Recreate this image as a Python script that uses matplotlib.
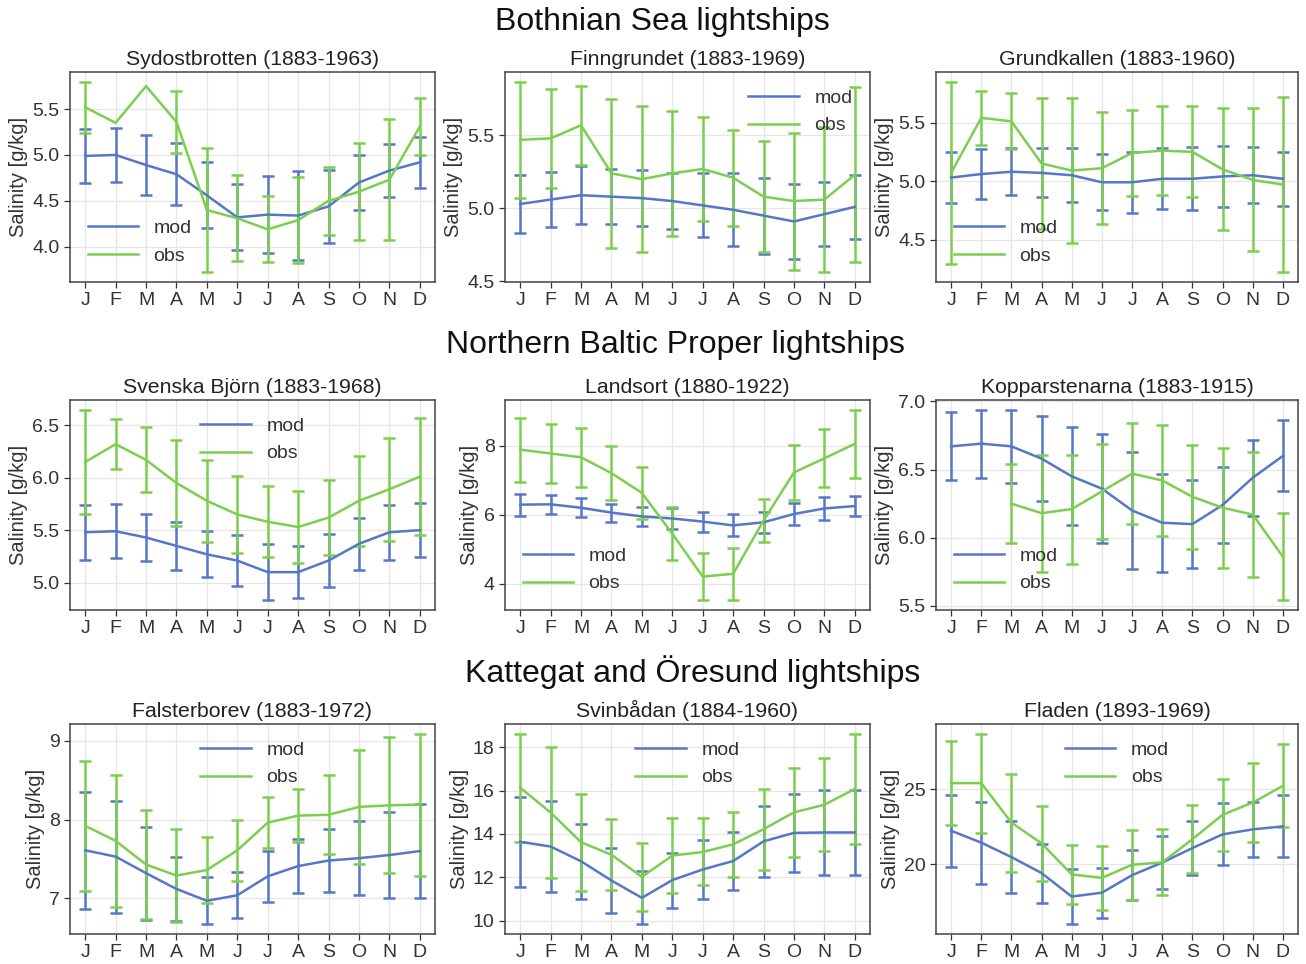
import numpy as np
import matplotlib
matplotlib.use('Agg')
import matplotlib.pyplot as plt
from matplotlib.ticker import MultipleLocator

plt.rcParams['font.family'] = ['Liberation Sans', 'DejaVu Sans']

months = ['J', 'F', 'M', 'A', 'M', 'J', 'J', 'A', 'S', 'O', 'N', 'D']
nan = np.nan

row_titles = ['Bothnian Sea lightships', 'Northern Baltic Proper lightships',
              'Kattegat and Öresund lightships']

stations = ['Sydostbrotten (1883-1963)', 'Finngrundet (1883-1969)', 'Grundkallen (1883-1960)',
            'Svenska Björn (1883-1968)', 'Landsort (1880-1922)', 'Kopparstenarna (1883-1915)',
            'Falsterborev (1883-1972)', 'Svinbådan (1884-1960)', 'Fladen (1893-1969)']

# monthly mean and standard deviation, model and observations
mod_mean = [
    [4.99, 5.00, 4.89, 4.79, 4.56, 4.32, 4.35, 4.34, 4.44, 4.70, 4.83, 4.92],
    [5.03, 5.06, 5.09, 5.08, 5.07, 5.05, 5.02, 4.99, 4.95, 4.91, 4.96, 5.01],
    [5.03, 5.06, 5.08, 5.07, 5.05, 4.99, 4.99, 5.02, 5.02, 5.04, 5.05, 5.02],
    [5.48, 5.49, 5.43, 5.35, 5.27, 5.21, 5.10, 5.10, 5.21, 5.37, 5.48, 5.50],
    [6.29, 6.30, 6.20, 6.06, 5.95, 5.89, 5.80, 5.69, 5.78, 6.02, 6.18, 6.25],
    [6.67, 6.69, 6.67, 6.58, 6.45, 6.36, 6.20, 6.11, 6.10, 6.24, 6.44, 6.60],
    [7.61, 7.53, 7.32, 7.12, 6.97, 7.04, 7.28, 7.41, 7.48, 7.51, 7.55, 7.60],
    [13.64, 13.42, 12.74, 11.85, 11.05, 11.87, 12.36, 12.75, 13.66, 14.05, 14.07, 14.07],
    [22.24, 21.45, 20.49, 19.43, 17.87, 18.13, 19.29, 20.13, 21.09, 22.00, 22.33, 22.53],
]
mod_std = [
    [0.29, 0.29, 0.33, 0.34, 0.36, 0.36, 0.42, 0.48, 0.40, 0.30, 0.29, 0.28],
    [0.20, 0.19, 0.20, 0.19, 0.19, 0.19, 0.22, 0.25, 0.26, 0.26, 0.22, 0.22],
    [0.22, 0.21, 0.20, 0.21, 0.23, 0.24, 0.26, 0.26, 0.27, 0.26, 0.24, 0.23],
    [0.26, 0.26, 0.22, 0.23, 0.22, 0.24, 0.27, 0.25, 0.25, 0.25, 0.26, 0.26],
    [0.32, 0.28, 0.28, 0.26, 0.28, 0.31, 0.29, 0.32, 0.30, 0.33, 0.33, 0.29],
    [0.25, 0.25, 0.27, 0.31, 0.36, 0.40, 0.43, 0.36, 0.32, 0.28, 0.28, 0.26],
    [0.74, 0.71, 0.59, 0.40, 0.30, 0.29, 0.32, 0.34, 0.40, 0.47, 0.54, 0.60],
    [2.07, 2.10, 1.73, 1.49, 1.23, 1.27, 1.37, 1.34, 1.65, 1.79, 1.95, 1.98],
    [2.39, 2.73, 2.37, 1.96, 1.85, 1.66, 1.65, 1.74, 1.77, 2.05, 1.85, 2.05],
]
obs_mean = [
    [5.52, 5.35, 5.75, 5.36, 4.40, 4.31, 4.19, 4.29, 4.50, 4.60, 4.73, 5.31],
    [5.47, 5.48, 5.57, 5.24, 5.20, 5.24, 5.27, 5.21, 5.08, 5.05, 5.06, 5.23],
    [5.07, 5.54, 5.51, 5.15, 5.09, 5.11, 5.24, 5.26, 5.25, 5.10, 5.01, 4.97],
    [6.15, 6.32, 6.17, 5.95, 5.78, 5.65, 5.58, 5.53, 5.62, 5.78, 5.89, 6.01],
    [7.88, 7.77, 7.66, 7.20, 6.63, 5.45, 4.21, 4.29, 5.83, 7.22, 7.63, 8.05],
    [nan, nan, 6.25, 6.18, 6.21, 6.34, 6.47, 6.42, 6.30, 6.22, 6.17, 5.86],
    [7.92, 7.73, 7.43, 7.29, 7.36, 7.61, 7.96, 8.05, 8.06, 8.16, 8.18, 8.19],
    [16.14, 14.99, 13.62, 13.04, 12.02, 13.00, 13.17, 13.52, 14.22, 15.00, 15.35, 16.08],
    [25.40, 25.40, 22.78, 21.40, 19.34, 19.11, 19.98, 20.14, 21.68, 23.30, 24.11, 25.22],
]
obs_std = [
    [0.28, nan, nan, 0.34, 0.68, 0.47, 0.36, 0.47, 0.37, 0.53, 0.66, 0.31],
    [0.40, 0.34, 0.27, 0.51, 0.50, 0.43, 0.36, 0.33, 0.38, 0.47, 0.50, 0.60],
    [0.78, 0.23, 0.24, 0.56, 0.62, 0.48, 0.37, 0.38, 0.39, 0.52, 0.61, 0.75],
    [0.50, 0.24, 0.31, 0.41, 0.39, 0.37, 0.34, 0.34, 0.36, 0.43, 0.49, 0.56],
    [0.93, 0.84, 0.85, 0.78, 0.76, 0.76, 0.69, 0.75, 0.63, 0.79, 0.84, 0.99],
    [nan, nan, 0.29, 0.43, 0.40, 0.35, 0.37, 0.41, 0.38, 0.44, 0.46, 0.32],
    [0.82, 0.84, 0.69, 0.59, 0.42, 0.39, 0.32, 0.34, 0.50, 0.72, 0.86, 0.90],
    [2.49, 3.02, 2.25, 1.64, 1.56, 1.72, 1.55, 1.51, 1.88, 2.05, 2.14, 2.56],
    [2.78, 3.29, 3.25, 2.50, 1.94, 2.14, 2.31, 2.19, 2.24, 2.38, 2.61, 2.75],
]

ytick_step = [0.5, 0.5, 0.5, 0.5, 2, 0.5, 1, 2, 5]
legend_loc = ['lower left', 'upper right', 'lower left', 'upper center', 'lower left',
              'lower left', 'upper center', 'upper center', 'upper center']

c_mod = '#5677c8'
c_obs = '#7ccf4e'

W, H = 1306, 964
fig = plt.figure(figsize=(W / 100, H / 100), dpi=100)

lefts = [70, 505, 936]
widths = [365, 365, 362]
tops = [72, 400, 724]
ht = 210
title_y = [22, 345, 672]
title_x = [662, 675, 693]

for r in range(3):
    fig.text(title_x[r] / W, 1 - title_y[r] / H, row_titles[r], ha='center', va='center',
             fontsize=23, color='#111111')

x = np.arange(12)
for k in range(9):
    r, c = divmod(k, 3)
    ax = fig.add_axes([lefts[c] / W, 1 - (tops[r] + ht) / H, widths[c] / W, ht / H])
    ax.errorbar(x, mod_mean[k], yerr=mod_std[k], color=c_mod, lw=1.8, capsize=4,
                capthick=1.8, elinewidth=1.8)
    ax.errorbar(x, obs_mean[k], yerr=obs_std[k], color=c_obs, lw=1.8, capsize=4,
                capthick=1.8, elinewidth=1.8)
    ax.plot([], [], color=c_mod, lw=1.8, label='mod')
    ax.plot([], [], color=c_obs, lw=1.8, label='obs')
    ax.set_xlim(-0.5, 11.5)
    ax.set_xticks(x)
    ax.set_xticklabels(months)
    ax.yaxis.set_major_locator(MultipleLocator(ytick_step[k]))
    ax.grid(True, color='#e6e6e6', lw=0.9)
    ax.set_axisbelow(True)
    for s in ax.spines.values():
        s.set_color('#444444')
        s.set_linewidth(1.1)
    ax.tick_params(labelsize=14, colors='#333333', length=4, width=0.9)
    ax.set_title(stations[k], fontsize=15.3, color='#222222', pad=5)
    ax.set_ylabel('Salinity [g/kg]', fontsize=14.5, color='#333333', labelpad=3)
    ax.legend(loc=legend_loc[k], frameon=False, fontsize=14, handlelength=2.6,
              labelcolor='#333333')

fig.savefig('out.png', dpi=100)
